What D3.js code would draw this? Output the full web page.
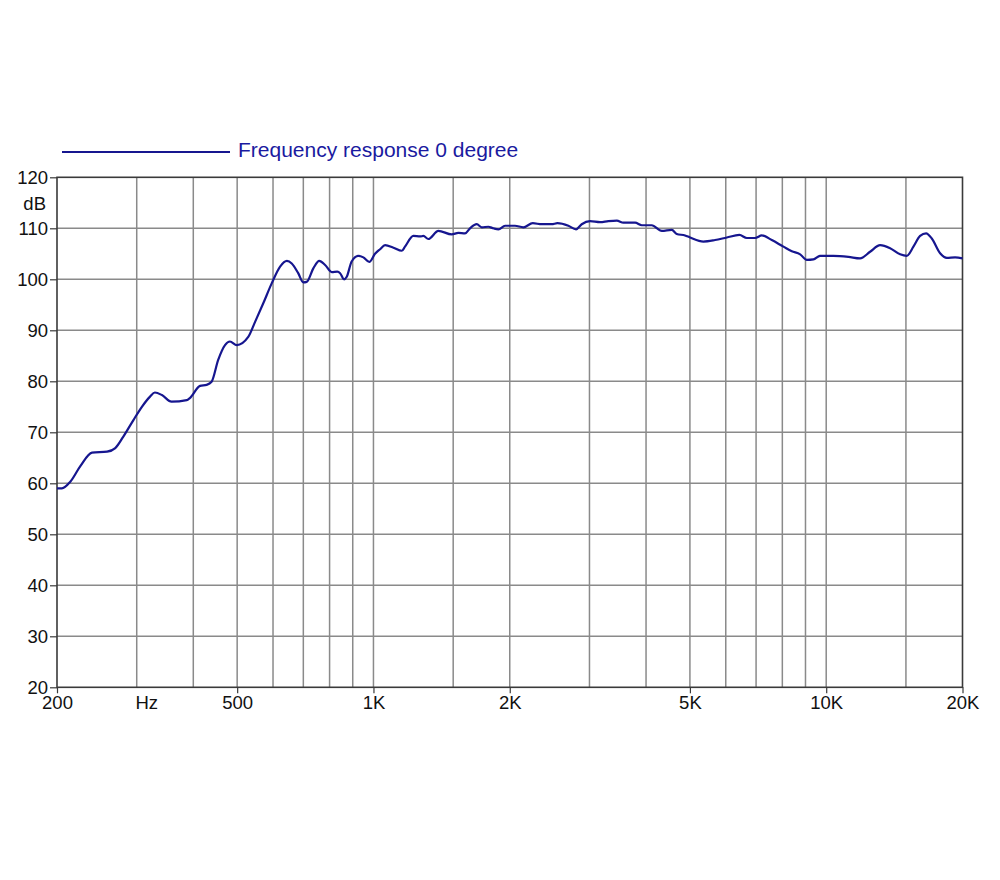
<!DOCTYPE html>
<html>
<head>
<meta charset="utf-8">
<script src="https://cdn.jsdelivr.net/npm/d3@7"></script>
<style>
  html, body { margin: 0; padding: 0; background: #fff; }
  svg { display: block; font-family: "Liberation Sans", Arial, Helvetica, sans-serif; }
</style>
</head>
<body>
<svg id="chart" width="1000" height="880"></svg>
<script>
// ---- data ----
const seriesName = "Frequency response 0 degree";
const freqs = [200,205,214,225,239,258,269,280,295,308,321,329,341,358,387,393,414,428,439,454,470,482,499,529,548,571,596,622,644,660,682,700,712,737,759,782,809,832,844,861,873,895,926,950,979,1008,1034,1061,1107,1155,1174,1225,1268,1289,1322,1391,1489,1540,1593,1634,1691,1735,1794,1840,1888,1953,2054,2143,2248,2354,2476,2548,2695,2802,2884,3009,3166,3302,3448,3565,3784,3915,4118,4334,4560,4676,4878,5004,5354,5682,6032,6432,6678,6966,7208,7584,8044,8396,8758,9060,9370,9692,10372,11196,11880,12500,13154,13842,14564,15066,15582,16122,16622,17108,17848,18466,19260,20000];
const dbValues = [59.0,59.0,60.3,63.3,66.0,66.2,66.9,69.1,72.4,75.0,77.0,77.8,77.3,76.0,76.3,76.7,79.1,79.3,79.9,84.2,87.1,87.8,87.1,88.7,91.7,95.3,99.2,102.5,103.6,103.1,101.2,99.4,99.5,102.2,103.6,102.8,101.4,101.5,101.2,100.0,100.5,103.5,104.6,104.3,103.4,105.0,105.9,106.7,106.2,105.6,106.4,108.5,108.4,108.5,107.9,109.5,108.8,109.1,109.0,110.0,110.8,110.2,110.3,110.0,109.8,110.5,110.5,110.2,111.0,110.8,110.8,111.0,110.5,109.8,110.8,111.4,111.2,111.4,111.5,111.1,111.1,110.6,110.6,109.5,109.7,108.9,108.6,108.2,107.4,107.7,108.2,108.7,108.1,108.1,108.6,107.7,106.4,105.5,104.9,103.8,103.9,104.6,104.6,104.4,104.1,105.4,106.7,106.1,104.9,104.6,106.4,108.5,109.0,108.0,105.1,104.2,104.3,104.1];
const gridFreqs = [300,400,500,600,700,800,900,1000,1500,2000,3000,4000,5000,6000,7000,8000,9000,10000,15000];
const xTickFreqs = [200,500,1000,2000,5000,10000,20000];
const xTickLabels = ["200","500","1K","2K","5K","10K","20K"];
const hzLabelFreq = 300;
const yTicks = [20,30,40,50,60,70,80,90,100,110,120];
const yUnit = "dB";
const xUnit = "Hz";

// ---- layout ----
const svg = d3.select("#chart");
const L = 57, R = 962.5, T = 177.3, B = 687.3;
const lineColor = "#16168f";
const fontSize = 18.5;

const x = d3.scaleLog().domain([200, 20000]).range([L, R]);
const y = d3.scaleLinear().domain([20, 120]).range([B, T]);

// grid
const g = svg.append("g");
g.selectAll("line.vg").data(gridFreqs).join("line")
  .attr("x1", d => x(d)).attr("x2", d => x(d))
  .attr("y1", T).attr("y2", B)
  .attr("stroke", "#8a8a8a").attr("stroke-width", 1.5);
g.selectAll("line.hg").data(yTicks.filter(v => v > 20 && v < 120)).join("line")
  .attr("x1", L).attr("x2", R)
  .attr("y1", d => y(d)).attr("y2", d => y(d))
  .attr("stroke", "#8a8a8a").attr("stroke-width", 1.5);

// frame
svg.append("rect").attr("x", L).attr("y", T).attr("width", R - L).attr("height", B - T)
  .attr("fill", "none").attr("stroke", "#3a3a3a").attr("stroke-width", 1.6);

// y axis
const yAxis = d3.axisLeft(y).tickValues(yTicks).tickSize(7).tickPadding(2);
const ya = svg.append("g").attr("transform", `translate(${L},0)`).call(yAxis);
ya.select(".domain").remove();
ya.selectAll(".tick line").attr("stroke", "#3a3a3a").attr("stroke-width", 1.2);
ya.selectAll(".tick text").attr("font-size", fontSize).attr("fill", "#111")
  .attr("font-family", "Liberation Sans, Arial, sans-serif");

svg.append("text").attr("x", 46).attr("y", y(114.6)).attr("text-anchor", "end")
  .attr("dominant-baseline", "middle").attr("font-size", fontSize).attr("fill", "#111").text(yUnit);

// x axis
const xAxis = d3.axisBottom(x).tickValues(xTickFreqs)
  .tickFormat((d, i) => xTickLabels[i]).tickSize(6).tickPadding(3);
const xa = svg.append("g").attr("transform", `translate(0,${B})`).call(xAxis);
xa.select(".domain").remove();
xa.selectAll(".tick line").attr("stroke", "#3a3a3a").attr("stroke-width", 1.2);
xa.selectAll(".tick text").attr("font-size", fontSize).attr("fill", "#111")
  .attr("font-family", "Liberation Sans, Arial, sans-serif");
svg.append("text").attr("x", x(hzLabelFreq) + 10).attr("y", B + 9).attr("dy", "0.71em")
  .attr("text-anchor", "middle").attr("font-size", fontSize).attr("fill", "#111").text(xUnit);

// curve
const data = freqs.map((f, i) => ({ f, v: dbValues[i] }));
const path = d3.line().x(d => x(d.f)).y(d => y(d.v)).curve(d3.curveMonotoneX);
svg.append("path").datum(data).attr("d", path)
  .attr("fill", "none").attr("stroke", lineColor).attr("stroke-width", 2.2)
  .attr("stroke-linejoin", "round");

// legend
svg.append("line").attr("x1", 62).attr("x2", 230).attr("y1", 152).attr("y2", 152)
  .attr("stroke", lineColor).attr("stroke-width", 2.2);
svg.append("text").attr("x", 238).attr("y", 151).attr("dominant-baseline", "middle")
  .attr("font-size", 21).attr("fill", "#1a1aa0").text(seriesName);
</script>
</body>
</html>
